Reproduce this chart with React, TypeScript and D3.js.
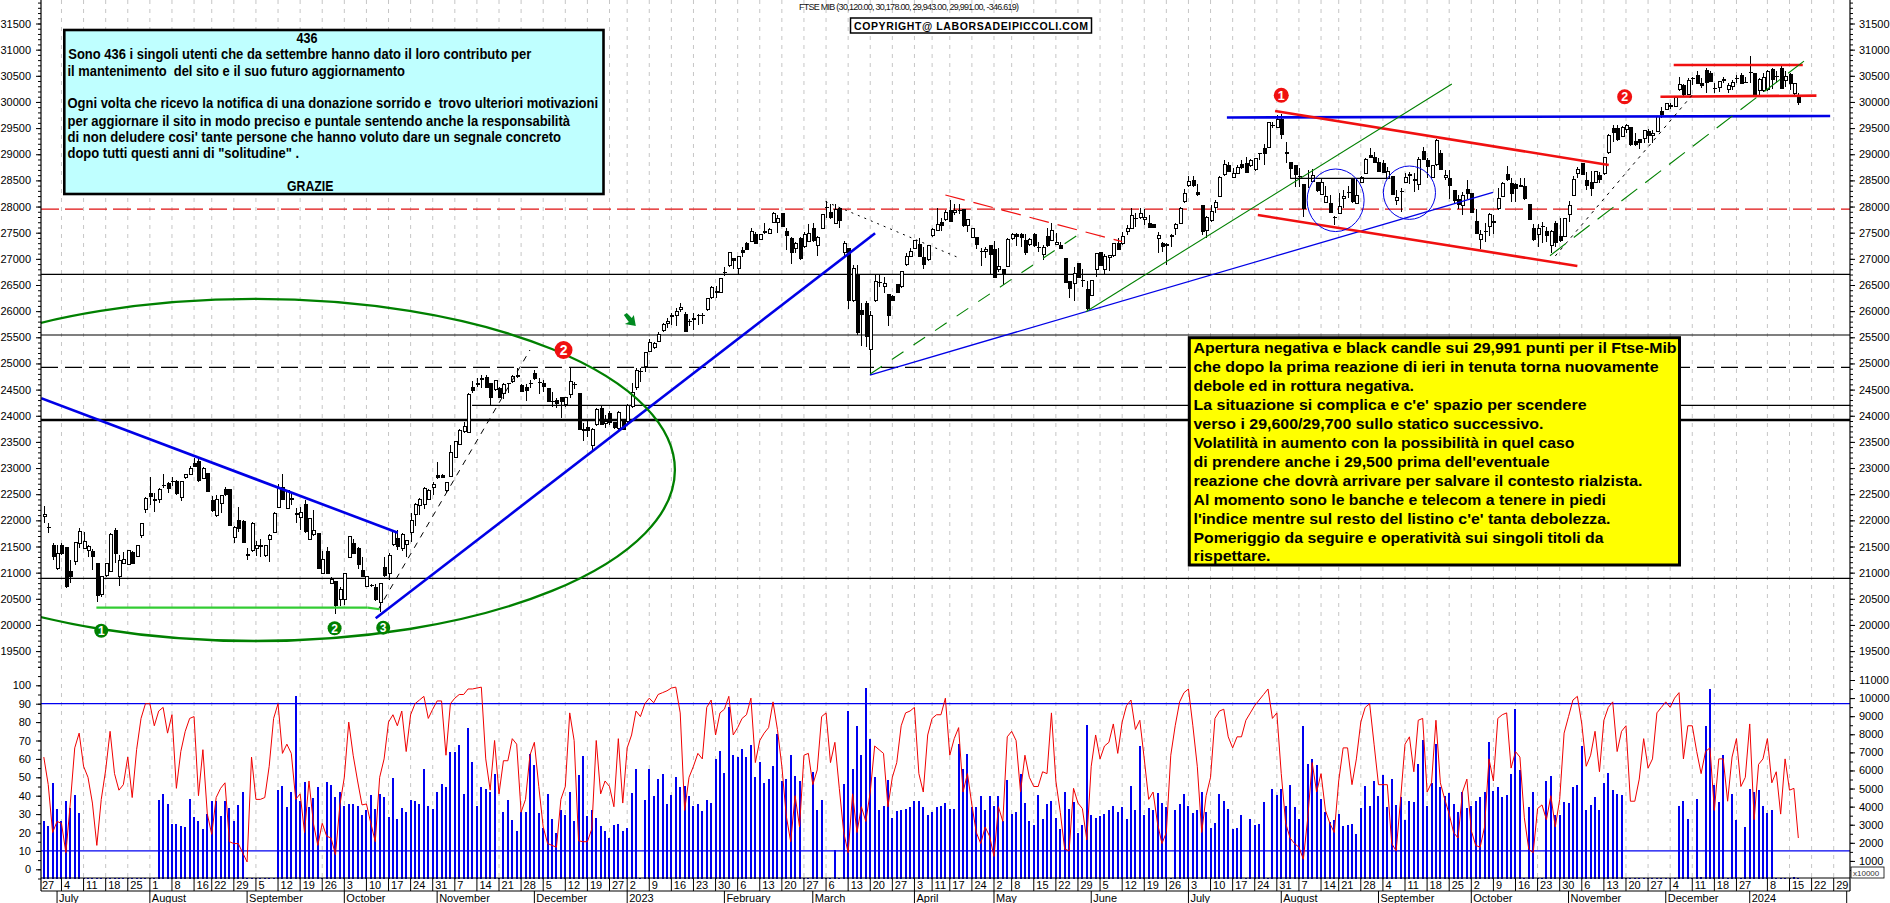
import React, { useEffect, useRef } from "react";
import * as d3 from "d3";

// FTSE MIB daily candles, 28 Jun 2022 -> 17 Jan 2024 (10 per row)
const opens = [
  22080,21865,21512,21085,21524,21486,21015,21212,21562,21461,
  21422,21410,21167,20575,20944,21021,21798,20925,21180,21161,
  21384,21308,21709,22199,22505,22403,22390,22670,22696,22741,
  22741,22435,22817,22881,23091,23123,22798,22900,22371,22085,
  22314,22582,22582,21677,21989,21977,21352,21422,21460,21505,
  21320,21639,21766,22250,22626,22231,22422,22125,22060,22295,
  21639,21728,21754,20989,21410,20798,20830,20492,20492,21295,
  21550,21467,21034,20734,20755,20722,20435,21104,20989,21531,
  21645,21467,21531,21773,22117,22276,22308,22403,22633,22862,
  22862,22569,22836,23206,23454,23696,23677,24537,24620,24684,
  24735,24620,24505,24525,24429,24610,24658,24758,24569,24544,
  24622,24813,24645,24622,24526,24275,24285,24354,24208,24412,
  24603,24431,23743,23775,23431,23826,24144,23857,24049,23870,
  23762,23921,23889,24176,24539,24845,24940,25227,25303,25418,
  25622,25762,25915,25915,26030,25940,25805,25855,25915,25920,
  26023,26259,26380,26361,26740,26870,27011,26820,27151,27297,
  27329,27457,27367,27510,27482,27699,27699,27858,27520,27380,
  27189,27393,27234,27329,27571,27246,27584,27975,27890,27680,
  27966,27125,27202,26195,26705,26004,26151,25259,26195,26548,
  26470,26310,26278,26501,26469,26883,27049,27202,27265,27030,
  26979,27444,27546,27699,27743,27922,27890,27934,27941,27635,
  27406,27412,27142,27138,27253,27183,26788,26788,26858,27393,
  27457,27457,27349,27266,27457,27218,27075,27425,27349,27279,
  27260,27011,26565,26521,26903,26590,26406,26298,26788,27120,
  26788,27030,27062,27285,27285,27521,27578,27780,27782,27744,
  27667,27648,27393,27285,27279,27442,27585,27680,28094,28394,
  28502,28266,28011,27540,27731,27986,28190,28604,28776,28553,
  28636,28808,28814,28776,28712,29018,29113,29126,29550,29515,
  29655,29037,28846,28776,28575,28413,28545,28476,28457,28228,
  28075,28062,27800,27871,28152,28270,28508,28062,28457,28636,
  28980,28941,28840,28814,28540,28572,28113,28289,28464,28608,
  28512,28413,29062,28890,28553,28795,29005,28553,28527,28304,
  28126,28012,28330,28254,27712,27375,27525,27617,27710,27955,
  28190,28604,28445,28413,28398,28381,28031,27585,27470,27621,
  27521,27254,27681,27426,27426,27852,28209,28623,28815,28490,
  28458,28458,28585,28636,29031,29496,29496,29337,29464,29515,
  29241,29273,29292,29439,29350,29432,29808,29859,29918,29910,
  30229,30311,30146,30448,30515,30356,30598,30547,30264,30280,
  30415,30241,30292,30448,30515,30370,30555,30547,30210,30216,
  30229,30623,30480,30643,30407,30534,30165,30120,
];
const highs = [
  22280,21950,21575,21531,21575,21498,21244,21575,21849,21785,
  21531,21461,21167,20925,21180,21755,21862,21340,21403,21435,
  21422,21517,21957,22442,22824,22518,22614,22887,22741,22836,
  22773,22760,22887,23040,23187,23219,23015,22913,22467,22486,
  22486,22633,22595,21894,22250,22009,21467,21964,21613,21639,
  21531,21741,22168,22697,22887,22582,22550,22231,22263,22391,
  22040,22199,21766,21422,21499,20925,20849,20734,21002,21709,
  21639,21486,21308,20938,20785,20785,20811,21308,21384,21805,
  21817,21754,21626,22136,22327,22422,22646,22595,22741,23117,
  22880,22741,23442,23524,23741,23888,24429,24671,24716,24779,
  24779,24633,24684,24556,24620,24633,24779,24907,24607,24607,
  24684,24877,24730,24685,24539,24450,24335,24367,24367,24928,
  24654,24431,23858,23902,23762,24144,24208,24017,24093,23889,
  24093,23940,24221,24622,24921,24909,25227,25469,25418,25609,
  25781,25864,25960,26055,26151,25979,25851,25960,25941,25960,
  26259,26488,26488,26641,26851,27138,27023,27062,27234,27329,
  27597,27508,27469,27680,27584,27902,27839,27871,27597,27425,
  27329,27425,27508,27660,27680,27444,27864,28106,28043,28043,
  27979,27342,27215,26883,26883,26151,26195,26004,26705,26705,
  26660,26323,26310,26514,26769,27106,27202,27361,27393,27234,
  27266,27584,27966,27788,27934,28125,28043,28043,27953,27762,
  27597,27425,27215,27234,27266,27342,27215,26807,27393,27488,
  27488,27488,27476,27393,27489,27330,27266,27585,27693,27489,
  27330,27024,26585,26852,26916,26801,26585,26597,27107,27139,
  27094,27082,27311,27394,27521,27648,27967,27871,27967,27948,
  27833,27667,27515,27330,27298,27476,27680,27986,28330,28585,
  28585,28432,28030,27820,28030,28126,28585,28891,28859,28731,
  28795,28891,28954,28903,28935,29030,29196,29623,29623,29750,
  29770,29241,28859,28795,28731,28432,28700,28712,28476,28540,
  28394,28222,27820,28254,28317,28394,28540,28521,28585,28922,
  29113,29050,28922,28891,28763,28585,28317,28349,28636,28668,
  28636,28941,29145,28922,28795,29285,29082,28700,28700,28317,
  28222,28286,28509,28267,27948,27553,27681,27872,27840,28349,
  28477,28776,28540,28458,28540,28540,28044,27668,27668,27712,
  27617,27553,27732,27776,27776,28114,28585,28764,28827,28668,
  28687,28687,28668,28955,29381,29560,29560,29541,29579,29528,
  29401,29286,29464,29490,29464,29732,29897,29974,29974,30101,
  30471,30343,30452,30483,30598,30452,30643,30598,30369,30407,
  30483,30356,30420,30515,30547,30471,30878,30560,30452,30547,
  30611,30643,30598,30725,30598,30547,30369,30178,
];
const lows = [
  21945,21766,21244,21053,21340,20709,20798,21148,21467,21461,
  21308,21053,20448,20530,20925,21021,21180,20747,21168,21148,
  21168,21295,21658,22148,22295,22168,22327,22614,22531,22658,
  22486,22378,22786,22868,23015,22741,22786,22537,22168,22060,
  22136,22473,21900,21575,21786,21575,21244,21403,21320,21308,
  21308,21212,21754,22238,22391,22219,22295,21945,21817,21754,
  21626,21709,21085,20989,20977,20785,20212,20365,20384,21276,
  21352,21066,20913,20722,20722,20467,20257,20925,20862,21512,
  21435,21422,21295,21594,21894,22104,22213,22391,22480,22786,
  22805,22531,22824,23187,23442,23677,23665,24429,24544,24525,
  24531,24206,24480,24333,24314,24429,24633,24716,24448,24289,
  24525,24685,24412,24463,24259,24176,24144,23966,24176,24335,
  24514,23730,23520,23603,23348,23813,23826,23762,23826,23749,
  23699,23730,23858,24144,24495,24654,24832,25214,25278,25405,
  25597,25686,25737,25724,25992,25597,25724,25641,25737,25749,
  26004,26234,26259,26342,26673,26851,26807,26705,27043,27164,
  27316,27278,27355,27469,27469,27680,27488,27603,27170,26896,
  27106,26985,27215,27316,27329,27062,27571,27775,27762,27667,
  27584,27043,26043,26170,25546,25342,25323,24781,26183,26469,
  26342,25724,26195,26342,26450,26871,27036,27189,27030,26807,
  26966,27412,27533,27533,27724,27699,27839,27851,27616,27520,
  27393,27189,26871,27011,26692,26629,26743,26501,26839,27367,
  27253,27234,27075,27247,27234,27139,26980,27234,27336,27266,
  27190,26546,26247,26202,26629,26470,26024,26292,26661,26858,
  26712,26776,27043,27164,27272,27457,27566,27604,27757,27648,
  27585,27585,27120,27139,26884,27222,27457,27667,28075,28381,
  28381,28203,27457,27406,27712,27871,28177,28585,28655,28540,
  28623,28725,28642,28763,28687,28890,28795,29113,29496,29502,
  29285,28840,28540,28368,28368,27808,28349,28464,28285,28215,
  28062,27871,27648,27859,27967,28158,28075,28050,28445,28623,
  28922,28833,28655,28636,28527,28222,28031,27903,28445,28432,
  28285,28317,28890,28540,28540,28782,28700,28508,28139,28050,
  27948,27840,28139,27872,27477,27184,27330,27438,27477,27942,
  28177,28496,28095,28095,28369,28133,27744,27349,27222,27298,
  27330,27107,27235,27330,27413,27713,28197,28541,28605,28318,
  28209,28445,28445,28604,29006,29241,29260,29324,29401,29165,
  29159,29101,29209,29209,29222,29420,29687,29846,29859,29897,
  30216,30120,30133,30324,30337,30260,30178,30375,30178,30197,
  30356,30178,30229,30356,30343,30356,30356,30120,30133,30197,
  30210,30241,30356,30248,30292,30229,30101,29943,
];
const closes = [
  22120,21855,21308,21371,21358,20734,20925,21575,21785,21594,
  21499,21308,20556,20925,21180,21722,21371,21225,21244,21416,
  21180,21511,21945,22422,22454,22378,22594,22658,22607,22735,
  22505,22741,22881,22996,23028,22754,22996,22550,22187,22390,
  22467,22486,21900,21868,21836,21575,21333,21945,21511,21510,
  21511,21709,22123,22613,22403,22563,22390,22120,22155,21785,
  22027,21804,21085,21244,20989,20875,20365,20683,20989,21690,
  21371,21148,20919,20925,20750,20492,20798,20938,21333,21785,
  21499,21722,21607,21996,22308,22403,22613,22563,22677,22824,
  22824,22728,23295,23505,23709,23792,24410,24480,24588,24715,
  24544,24346,24671,24353,24607,24620,24760,24762,24461,24480,
  24618,24705,24635,24558,24272,24268,24240,24272,24348,24654,
  24600,23743,23724,23711,23743,24125,23838,23889,23877,23781,
  24068,23743,24195,24450,24870,24843,25208,25405,25386,25546,
  25749,25807,25905,25998,26068,25609,25795,25847,25910,25910,
  26240,26456,26355,26616,26746,27125,26972,27049,27125,27176,
  27520,27291,27457,27518,27552,27871,27762,27616,27444,27125,
  27291,27000,27469,27488,27342,27412,27852,27983,27788,27953,
  27724,27297,26195,26820,25590,25940,25514,25915,26565,26542,
  26520,25915,26208,26355,26756,27043,27138,27348,27043,26883,
  27246,27552,27660,27635,27890,27711,27922,27922,27635,27750,
  27571,27265,27134,27183,27075,26641,26858,26705,27374,27457,
  27418,27406,27120,27374,27247,27212,27222,27247,27540,27311,
  27202,26553,26425,26725,26642,26580,26056,26585,27094,26871,
  27043,27069,27298,27183,27425,27585,27827,27772,27871,27795,
  27604,27604,27438,27234,27247,27434,27661,27967,28253,28470,
  28394,28228,27521,27795,27903,28081,28559,28808,28668,28636,
  28738,28738,28655,28878,28910,29005,29018,29604,29544,29655,
  29381,29005,28719,28604,28568,27967,28535,28591,28298,28457,
  28190,27884,27790,27999,28190,28262,28094,28209,28553,28903,
  28941,28846,28668,28655,28668,28234,28177,28281,28553,28600,
  28504,28903,28903,28763,28776,29254,28712,28591,28394,28113,
  28030,28203,28254,27884,27490,27458,27517,27840,27702,28158,
  28445,28509,28254,28350,28390,28146,27757,27362,27585,27613,
  27451,27521,27311,27349,27763,28012,28509,28700,28617,28394,
  28350,28662,28509,28942,29362,29420,29273,29509,29553,29178,
  29178,29222,29445,29362,29400,29719,29751,29961,29928,30082,
  30337,30133,30407,30456,30356,30318,30375,30388,30256,30388,
  30425,30305,30375,30456,30356,30380,30565,30133,30420,30471,
  30579,30432,30486,30260,30483,30356,30356,29991,
];
// volume, right hand scale (x10000)
const volumes = [
  3190,2930,5300,3880,3190,4290,3900,4620,3640,60,
  60,60,60,60,60,60,60,60,60,60,
  60,60,60,60,60,60,4360,4720,4160,3050,
  3050,2930,2880,4410,3450,3190,2780,3600,4290,4310,
  3490,4310,3900,3230,4110,4820,60,60,60,60,
  60,60,60,4920,5130,3990,4820,10090,4310,5380,
  4000,4470,5100,60,5380,5190,4510,4820,4060,4140,
  4140,4060,3550,3800,4660,3880,4720,4510,3430,5590,
  3290,3900,3700,4380,4290,4160,6100,4040,3880,4790,
  5230,5080,7020,7000,7410,4720,8350,6450,4040,5100,
  4970,4790,5800,60,3700,4380,3270,2680,3700,3700,
  6930,6300,3660,2840,4720,3290,2530,3800,3550,4790,
  3230,5740,6820,3490,3800,3390,2930,2660,2290,2980,
  3050,2660,2840,4750,6080,60,4380,6080,4570,5530,
  5800,4160,4660,5640,5070,5160,4610,4040,4140,3770,
  4360,4200,6640,7060,5880,9500,6860,6750,7160,6760,
  7410,5640,6450,5300,5530,6250,8040,5430,5530,6860,
  5710,5390,60,60,5890,3800,4380,60,60,1610,
  60,5270,9260,6080,8440,6860,10580,7760,5620,3800,
  4040,5490,3390,3770,3800,3860,4000,4290,4310,4000,
  3550,3680,3970,4040,4200,3860,3860,7470,6100,6930,
  4000,4000,4610,3800,4610,4040,4610,3190,5490,3600,
  3700,5800,4210,3190,2980,4620,3290,4160,4290,3390,
  2750,4820,3880,4230,2530,2980,8520,3550,3390,3490,
  3600,3800,4040,3700,4000,3290,5160,3800,7370,3550,
  3900,3800,4750,4200,4000,60,3800,4140,4720,4040,
  3640,3800,4820,3700,2840,3080,4720,4310,3880,2750,
  2840,3550,60,3330,3010,3050,4250,60,4970,4660,
  4970,4040,5210,3970,3290,8430,6350,6660,6300,4410,
  3700,3130,3250,3600,2930,2980,3050,2490,3930,5160,
  4040,5430,4570,5770,3970,5530,4110,4510,3270,4290,
  4230,6350,7680,4040,5300,7470,5080,4570,4750,4140,
  3680,4820,3900,4040,4310,4510,4800,7570,4880,5070,
  4510,4660,5820,9370,6000,60,3970,4820,60,60,
  5390,5680,3550,3550,4250,4200,5070,5210,7370,3800,
  4110,4510,3800,5300,5860,4920,4720,4660,60,60,
  60,60,60,60,60,60,60,60,60,60,
  4040,4310,3290,60,4410,120,8430,10480,5210,4230,
  6860,60,4720,3250,60,2880,4970,4820,4920,4040,
  3640,3800,60,60,60,60,120,60,
];
// red oscillator, left hand scale 0-100
const oscillator = [
  61,46,20,26,25,9,36,66,74,56,
  50,36,13,38,54,75,52,43,46,61,
  39,65,82,90,90,78,86,88,74,84,
  44,64,75,82,83,40,65,30,19,39,
  44,47,15,14,14,9,4,61,38,38,
  39,56,82,90,63,68,63,38,41,20,
  48,25,13,25,18,17,8,35,50,80,
  62,48,35,35.5,25,15,50,60,80,84,
  78,86,64,84,90,92,94,82,87,91.5,
  91.5,62,90,93,95,95,98,98,98.5,99,
  60,43,70,41,59,59,71,68,31,38,
  62,69,45,23,14,13,12,38,45,85,
  70,15.5,15,15,22,70,41,48,45,34,
  71,36,66,73,86,83,90,93,90.5,95,
  96,97,98.5,99,85,32,50,56,63,60,
  88,92,73,85,87,94,73,77,82,84,
  93,58,70,74,77,91,76,56,29,15,
  40,23,62,63,46,54,83,85,58,69,
  44,20,9,41,20,34,26,42,67,65,
  63,34,50,58,78,85,86,88,52,42,
  73,82,84,84,93,62,71,77,42,52,
  35,20,14,23,18,7,34,26,72,75,
  70,42,62,50,45,45,53,52,85,48,
  31,11,10,44,36,33,16,56,73,60,
  67,69,79,63,80,89,92,76,81,60,
  38,42,25,14,20,62,78,91,96,98,
  78,56,20,40,50,82,86,87,72,66,
  72,72,81,85,89,92,95,98,82,85,
  52,25,17,14,12,5.5,28,58,42,52,
  32,25,20,48,66,66,46,60,80,88,
  90,68,46,46,46,14,10,38,68,72,
  53,81,82,42,47,81,47,38,30,20,
  17,42,49,21,13,12,23,60,48,82,
  84,85,55,64,61,28,11,9,33,35,
  27,40,23,38,74,83,92,94,79,56,
  62,75,53,81,88,91,64,75,78,37,
  37,49,71,55,60,85,88,91,88,93,
  96,60,78,78,64,52,64,66,32,60,
  60,37,61,71,45,50,79,27,57,60,
  71,47,53,30,60,43,44,17,
];

// weeks on the time axis: label and bar index of the week's first session
const weekLabels = ["27","4","11","18","25","1","8","16","22","29","5","12","19","26","3","10","17","24","31","7","14","21","28","5","12","19","27","2","9","16","23","30","6","13","20","27","6","13","20","27","3","11","17","24","2","8","15","22","29","5","12","19","26","3","10","17","24","31","7","14","21","28","4","11","18","25","2","9","16","23","30","6","13","20","27","4","11","18","27","8","15","22","29"];
const weekIndex = [-1,4,9,14,19,24,29,34,38,43,48,53,58,63,68,73,78,83,88,93,98,103,108,113,118,123,128,132,137,142,147,152,157,162,167,172,177,182,187,192,197,201,205,210,215,219,224,229,234,239,244,249,254,259,264,269,274,279,284,289,293,298,303,308,313,318,323,328,333,338,343,348,353,358,363,368,373,378,383,390,395,400,405];
const monthLabels = ["July","August","September","October","November","December","2023","February","March","April","May","June","July","August","September","October","November","December","2024"];
const monthIndex = [3,24,46,68,89,111,132,154,174,197,215,237,259,280,302,323,345,367,386];

// price levels, [price, from bar or null for full width, style]
const levels: [number, number | null, string, number, string][] = [
  [26705, null, "#000", 1.2, ""],
  [25544, null, "#000", 1.2, ""],
  [24926, null, "#000", 1.2, "17 7"],
  [24200, 96.9, "#000", 1.2, ""],
  [23920, null, "#000", 2.6, ""],
  [20892, null, "#000", 1.2, ""],
  [27950, null, "#e01010", 1.2, "18 6"],
];
// hand drawn trendlines in bar index / price: [i1, p1, i2, p2, colour, width, dash]
const trendLines: [number, number, number, number, string, number, string][] = [
  [-0.6, 24334, 80.1, 21764, "#0000e6", 2.6, ""],
  [75.1, 20127, 188.1, 27489, "#0000e6", 2.6, ""],
  [186.9, 24779, 327.9, 28273, "#0000e6", 1.3, ""],
  [267.7, 29703, 404.2, 29731, "#0000e6", 2.6, ""],
  [278.6, 29827, 354.1, 28795, "#f01010", 2.6, ""],
  [274.7, 27838, 347, 26863, "#f01010", 2.6, ""],
  [368.8, 30707, 398, 30707, "#f01010", 2.6, ""],
  [365.8, 30100, 401.1, 30120, "#f01010", 2.6, ""],
  [204, 28221, 244, 27328, "#f01010", 1.2, "20 9"],
  [176.9, 28093, 207.3, 27011, "#000", 1, "2 5"],
  [75.6, 20286, 110, 25257, "#000", 1, "6 6"],
  [342, 27055, 373, 30133, "#000", 1, "3 5"],
  [187, 24798, 235.4, 27538, "#008000", 1.1, "14 12"],
  [235.8, 25990, 318.6, 30343, "#008000", 1.1, ""],
  [340.8, 27060, 399.2, 30840, "#008000", 1.1, "20 10"],
  [11.9, 20330, 73.3, 20330, "#33cc33", 2.2, ""],
  [73.3, 20330, 76, 20300, "#33cc33", 2.2, ""],
  [282, 28540, 304.7, 28540, "#000", 1.2, ""],
];
// [centre bar, centre price, radius in bars, radius in price, colour, width]
const ellipses: [number, number, number, number, string, number][] = [
  [47.8, 22963, 95, 3270, "#008000", 2.3],
  [292.3, 28120, 6.45, 598, "#0000e6", 1],
  [309, 28265, 5.9, 510, "#0000e6", 1],
];
// numbered markers: [bar, price, number, colour, radius]
const markers: [number, number, string, string, number][] = [
  [280, 30127, "1", "#f01010", 7.5],
  [357.7, 30100, "2", "#f01010", 7.5],
  [117.6, 25257, "2", "#f01010", 9],
  [13, 19890, "1", "#008000", 7],
  [65.8, 19936, "2", "#008000", 7],
  [76.8, 19948, "3", "#008000", 7],
];

const donationLines: [string, number, number, number][] = [
  ["436", 296.5, 43, 21],
  ["Sono 436 i singoli utenti che da settembre hanno dato il loro contributo per", 68.3, 59, 463],
  ["il mantenimento  del sito e il suo futuro aggiornamento", 67.5, 75.7, 337.5],
  ["Ogni volta che ricevo la notifica di una donazione sorrido e  trovo ulteriori motivazioni", 67.5, 108, 530.5],
  ["per aggiornare il sito in modo preciso e puntale sentendo anche la responsabilità", 67.5, 125.7, 502.5],
  ["di non deludere cosi' tante persone che hanno voluto dare un segnale concreto", 67.5, 141.7, 493.5],
  ["dopo tutti questi anni di \"solitudine\" .", 67.5, 158, 231.5],
  ["GRAZIE", 287, 191, 46.5],
];
const commentLines: [string, number][] = [
  ["Apertura negativa e black candle sui 29,991 punti per il Ftse-Mib", 483],
  ["che dopo la prima reazione di ieri in tenuta torna nuovamente", 465],
  ["debole ed in rottura negativa.", 220.5],
  ["La situazione si complica e c'e' spazio per scendere", 393],
  ["verso i 29,600/29,700 sullo statico successivo.", 350],
  ["Volatilità in aumento con la possibilità in quel caso", 381],
  ["di prendere anche i 29,500 prima dell'eventuale", 356],
  ["reazione che dovrà arrivare per salvare il contesto rialzista.", 449],
  ["Al momento sono le banche e telecom a tenere in piedi", 412.5],
  ["l'indice mentre sul resto del listino c'e' tanta debolezza.", 417],
  ["Pomeriggio da seguire e operatività sui singoli titoli da", 410],
  ["rispettare.", 77],
];

const FONT = "'Liberation Sans', Arial, sans-serif";
const AXIS_L = 41;
const AXIS_R = 1850;
const GRID_BOTTOM = 878;

const x = d3.scaleLinear().domain([0, 395]).range([43.8, 1789.5]);
const yPrice = d3.scaleLinear().domain([19000, 32000]).range([677.25, -2.65]);
const yOsc = d3.scaleLinear().domain([0, 100]).range([869.3, 685.3]);
const yVol = d3.scaleLinear().domain([0, 11000]).range([879, 680]);

export default function App() {
  const ref = useRef<SVGSVGElement | null>(null);

  useEffect(() => {
    const svg = d3.select(ref.current);
    svg.selectAll("*").remove();

    svg.append("clipPath").attr("id", "plot").append("rect")
      .attr("x", AXIS_L).attr("y", 0).attr("width", AXIS_R - AXIS_L).attr("height", GRID_BOTTOM);

    // weekly grid
    svg.append("g").selectAll("line").data(weekIndex.filter((d) => d >= 0)).enter().append("line")
      .attr("x1", (d) => x(d)).attr("x2", (d) => x(d))
      .attr("y1", 0).attr("y2", GRID_BOTTOM)
      .attr("stroke", "#c6c6c6").attr("stroke-dasharray", "4 5").attr("stroke-width", 1);

    // volume
    svg.append("g").attr("shape-rendering", "crispEdges").selectAll("rect").data(volumes).enter().append("rect")
      .attr("x", (_, i) => Math.round(x(i)) - 1)
      .attr("y", (d) => yVol(d))
      .attr("width", 2)
      .attr("height", (d) => yVol(0) - yVol(d))
      .attr("fill", "#0000f0");

    // oscillator limits
    svg.append("g").selectAll("line").data([90, 10]).enter().append("line")
      .attr("x1", AXIS_L).attr("x2", AXIS_R)
      .attr("y1", (d) => yOsc(d)).attr("y2", (d) => yOsc(d))
      .attr("stroke", "#0000f0").attr("stroke-width", 1.2);

    const oscLine = d3.line<number>().x((_, i) => x(i)).y((d) => yOsc(d));
    svg.append("path").attr("d", oscLine(oscillator)).attr("fill", "none").attr("stroke", "#f00000").attr("stroke-width", 1);

    // price levels
    svg.append("g").selectAll("line").data(levels).enter().append("line")
      .attr("x1", (d) => (d[1] === null ? AXIS_L : x(d[1])))
      .attr("x2", AXIS_R)
      .attr("y1", (d) => yPrice(d[0])).attr("y2", (d) => yPrice(d[0]))
      .attr("stroke", (d) => d[2]).attr("stroke-width", (d) => d[3]).attr("stroke-dasharray", (d) => d[4]);

    // candles
    const candles = svg.append("g").attr("shape-rendering", "crispEdges");
    const c = candles.selectAll("g").data(opens).enter().append("g");
    c.append("line")
      .attr("x1", (_, i) => Math.round(x(i)) + 0.5).attr("x2", (_, i) => Math.round(x(i)) + 0.5)
      .attr("y1", (_, i) => yPrice(highs[i])).attr("y2", (_, i) => yPrice(lows[i]))
      .attr("stroke", "#000");
    c.append("rect")
      .attr("x", (_, i) => Math.round(x(i)) - 1)
      .attr("y", (d, i) => yPrice(Math.max(d, closes[i])))
      .attr("width", 3)
      .attr("height", (d, i) => Math.abs(yPrice(d) - yPrice(closes[i])))
      .attr("fill", (d, i) => (closes[i] >= d ? "#fff" : "#000"))
      .attr("stroke", "#000");

    // trendlines
    svg.append("g").attr("clip-path", "url(#plot)").selectAll("line").data(trendLines).enter().append("line")
      .attr("x1", (d) => x(d[0])).attr("y1", (d) => yPrice(d[1]))
      .attr("x2", (d) => x(d[2])).attr("y2", (d) => yPrice(d[3]))
      .attr("stroke", (d) => d[4]).attr("stroke-width", (d) => d[5]).attr("stroke-dasharray", (d) => d[6]);

    svg.append("g").attr("clip-path", "url(#plot)").selectAll("ellipse").data(ellipses).enter().append("ellipse")
      .attr("cx", (d) => x(d[0])).attr("cy", (d) => yPrice(d[1]))
      .attr("rx", (d) => x(d[2]) - x(0)).attr("ry", (d) => yPrice(0) - yPrice(d[3]))
      .attr("fill", "none").attr("stroke", (d) => d[4]).attr("stroke-width", (d) => d[5]);

    // little green arrow
    svg.append("path")
      .attr("transform", `translate(${x(132.6)},${yPrice(25831)})`)
      .attr("d", "M-6,-5 L-3,-7 L2,-2 L4,-5 L6,6 L-5,4 L-1,2 Z")
      .attr("fill", "#008a20");

    // numbered markers
    const m = svg.append("g").selectAll("g").data(markers).enter().append("g")
      .attr("transform", (d) => `translate(${x(d[0])},${yPrice(d[1])})`);
    m.append("circle").attr("r", (d) => d[4]).attr("fill", (d) => d[3]);
    m.append("text").text((d) => d[2])
      .attr("text-anchor", "middle").attr("dy", "0.36em")
      .attr("font-family", FONT).attr("font-weight", "bold").attr("font-size", (d) => d[4] + 5)
      .attr("fill", "#fff");

    // axes
    const price = d3.range(19500, 32000, 500);
    const priceMinor = d3.range(19200, 32000, 100);
    const vol = d3.range(1000, 12000, 1000);
    const volMinor = d3.range(500, 12000, 500);
    const osc = d3.range(0, 110, 10);
    const oscMinor = d3.range(-5, 115, 5);
    const axes = svg.append("g");
    const style = (g: any) => {
      g.select(".domain").remove();
      g.selectAll("text").attr("font-family", FONT).attr("font-size", 11).attr("fill", "#000");
      g.selectAll("line").attr("stroke", "#000");
    };
    const noLabel = () => "";
    const left = axes.append("g").attr("transform", `translate(${AXIS_L},0)`);
    const right = axes.append("g").attr("transform", `translate(${AXIS_R},0)`);
    left.append("g").call(d3.axisLeft(yPrice).tickValues(priceMinor).tickSize(3).tickFormat(noLabel as any)).call(style);
    left.append("g").call(d3.axisLeft(yPrice).tickValues(price).tickSize(5).tickPadding(5).tickFormat(d3.format("d") as any)).call(style);
    left.append("g").call(d3.axisLeft(yOsc).tickValues(oscMinor).tickSize(3).tickFormat(noLabel as any)).call(style);
    left.append("g").call(d3.axisLeft(yOsc).tickValues(osc).tickSize(5).tickPadding(5).tickFormat(d3.format("d") as any)).call(style);
    right.append("g").call(d3.axisRight(yPrice).tickValues(priceMinor).tickSize(3).tickFormat(noLabel as any)).call(style);
    right.append("g").call(d3.axisRight(yPrice).tickValues(price).tickSize(5).tickPadding(4).tickFormat(d3.format("d") as any)).call(style);
    right.append("g").call(d3.axisRight(yVol).tickValues(volMinor).tickSize(3).tickFormat(noLabel as any)).call(style);
    right.append("g").call(d3.axisRight(yVol).tickValues(vol).tickSize(5).tickPadding(4).tickFormat(d3.format("d") as any)).call(style);

    axes.selectAll(".frame").data([AXIS_L, AXIS_R]).enter().append("line")
      .attr("x1", (d) => d).attr("x2", (d) => d).attr("y1", 0).attr("y2", GRID_BOTTOM + 13)
      .attr("stroke", "#000").attr("stroke-width", 1.2);
    axes.selectAll(".base").data([GRID_BOTTOM, 891]).enter().append("line")
      .attr("x1", AXIS_L).attr("x2", AXIS_R).attr("y1", (d) => d).attr("y2", (d) => d)
      .attr("stroke", "#000").attr("stroke-width", 1.2);

    // x10000 tag
    const tag = axes.append("g");
    tag.append("rect").attr("x", 1851).attr("y", 867).attr("width", 33).attr("height", 11).attr("fill", "#fff").attr("stroke", "#000").attr("stroke-width", 0.8);
    tag.append("text").text("x10000").attr("x", 1853).attr("y", 875.5).attr("font-family", FONT).attr("font-size", 8).attr("fill", "#333");

    // time axis
    const weeks = axes.append("g").selectAll("g").data(weekLabels).enter().append("g")
      .attr("transform", (_, i) => `translate(${x(weekIndex[i])},0)`);
    weeks.append("line").attr("y1", GRID_BOTTOM).attr("y2", 891).attr("stroke", "#000").attr("display", (_, i) => (weekIndex[i] < 0 ? "none" : null));
    weeks.append("text").text((d) => d).attr("x", 2.5).attr("y", 889)
      .attr("font-family", FONT).attr("font-size", 11).attr("fill", "#000");
    const months = axes.append("g").selectAll("g").data(monthLabels).enter().append("g")
      .attr("transform", (_, i) => `translate(${x(monthIndex[i])},0)`);
    months.append("line").attr("y1", 891).attr("y2", 903).attr("stroke", "#000");
    months.append("text").text((d) => d).attr("x", 2).attr("y", 902)
      .attr("font-family", FONT).attr("font-size", 11).attr("fill", "#000");
    axes.append("line").attr("x1", x(405) + 13).attr("x2", x(405) + 13).attr("y1", 891).attr("y2", 903).attr("stroke", "#000");

    // header
    svg.append("text").text("FTSE MIB (30,120.00, 30,178.00, 29,943.00, 29,991.00, -346.619)")
      .attr("x", 799).attr("y", 10).attr("textLength", 220).attr("lengthAdjust", "spacing")
      .attr("font-family", FONT).attr("font-size", 9).attr("fill", "#111");
    svg.append("rect").attr("x", 850.5).attr("y", 18).attr("width", 241).attr("height", 15)
      .attr("fill", "#fff").attr("stroke", "#000").attr("stroke-width", 1.5);
    svg.append("text").text("COPYRIGHT@ LABORSADEIPICCOLI.COM")
      .attr("x", 854).attr("y", 29.5).attr("textLength", 234).attr("lengthAdjust", "spacing")
      .attr("font-family", FONT).attr("font-size", 10.5).attr("font-weight", "bold").attr("fill", "#000");

    // cyan box
    svg.append("rect").attr("x", 64.3).attr("y", 30).attr("width", 539.2).attr("height", 164)
      .attr("fill", "#bfffff").attr("stroke", "#000").attr("stroke-width", 2.6);
    svg.append("g").selectAll("text").data(donationLines).enter().append("text")
      .text((d) => d[0])
      .attr("x", (d) => d[1]).attr("y", (d) => d[2])
      .attr("textLength", (d) => d[3]).attr("lengthAdjust", "spacingAndGlyphs")
      .attr("font-family", FONT).attr("font-size", 14).attr("font-weight", "bold").attr("fill", "#000")
      .attr("xml:space", "preserve");

    // yellow box
    svg.append("rect").attr("x", 1189.3).attr("y", 337.7).attr("width", 490.2).attr("height", 227.3)
      .attr("fill", "#ffff00").attr("stroke", "#000").attr("stroke-width", 3);
    svg.append("g").selectAll("text").data(commentLines).enter().append("text")
      .text((d) => d[0])
      .attr("x", 1193.5).attr("y", (_, i) => 353 + i * 18.95)
      .attr("textLength", (d) => d[1]).attr("lengthAdjust", "spacingAndGlyphs")
      .attr("font-family", FONT).attr("font-size", 15).attr("font-weight", "bold").attr("fill", "#000");
  }, []);

  return (
    <svg
      ref={ref}
      width={1890}
      height={903}
      style={{ position: "absolute", left: 0, top: 0, display: "block", background: "#fff" }}
    />
  );
}
